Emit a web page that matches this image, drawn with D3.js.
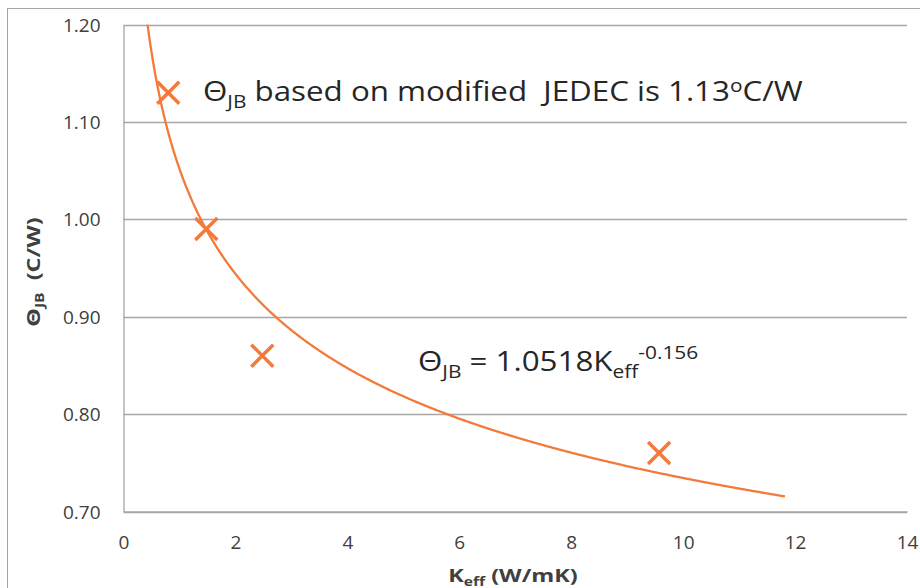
<!DOCTYPE html>
<html>
<head>
<meta charset="utf-8">
<script src="https://cdn.jsdelivr.net/npm/d3@7/dist/d3.min.js"></script>
<style>
  html, body { margin: 0; padding: 0; background: #fff; }
  svg { display: block; font-family: "Open Sans", "Liberation Sans", sans-serif; }
  text { white-space: pre; }
</style>
</head>
<body>
<svg id="chart" width="920" height="588"></svg>
<script>
// Measured points: effective conductivity (W/mK) vs theta-JB (C/W)
const keff = [0.8, 1.48, 2.48, 9.57];
const thetaJB = [1.13, 0.99, 0.86, 0.76];

// Power-law fit stated in the chart: theta = a * K^b
const fitCoef = [1.0518];
const fitExp = [-0.156];
const fitRange = [0.43, 11.82];

const xTicks = [0, 2, 4, 6, 8, 10, 12, 14];
const yTicks = [0.70, 0.80, 0.90, 1.00, 1.10, 1.20];

const orange = "#F47A3B";
const svg = d3.select("#chart");

const x = d3.scaleLinear().domain([0, 14]).range([123.5, 907]);
const y = d3.scaleLinear().domain([0.70, 1.20]).range([511.5, 24.5]);

// text block anchored at (tx, ty), widened horizontally by sx
function wideText(tx, ty, sx, rot) {
  return svg.append("g")
    .attr("transform", `translate(${tx},${ty})${rot ? ` rotate(${rot})` : ""} scale(${sx},1)`)
    .append("text");
}

// outer chart frame
svg.append("rect")
  .attr("x", 7.5).attr("y", 8.5)
  .attr("width", 930).attr("height", 600)
  .attr("fill", "none").attr("stroke", "#a6a6a6").attr("stroke-width", 1);

// horizontal gridlines
svg.append("g")
  .selectAll("line")
  .data(yTicks)
  .join("line")
  .attr("x1", x(0)).attr("x2", x(14))
  .attr("y1", d => Math.round(y(d)) + 0.5).attr("y2", d => Math.round(y(d)) + 0.5)
  .attr("stroke", "#a6a6a6").attr("stroke-width", 1.3);

// y axis
const yAxis = d3.axisLeft(y).tickValues(yTicks).tickFormat(d3.format(".2f")).tickSize(0).tickPadding(23);
const gy = svg.append("g").attr("transform", `translate(${x(0)},0)`).call(yAxis);
gy.select(".domain").attr("stroke", "#a6a6a6").attr("stroke-width", 1.3);
gy.selectAll("text").attr("font-size", 19).attr("font-family", "Open Sans").attr("fill", "#404040").attr("dy", "0.35em");

// x axis
const xAxis = d3.axisBottom(x).tickValues(xTicks).tickFormat(d3.format("d")).tickSize(0).tickPadding(24);
const gx = svg.append("g").attr("transform", `translate(0,${y(0.70)})`).call(xAxis);
gx.select(".domain").attr("stroke", "#a6a6a6").attr("stroke-width", 1.3);
gx.selectAll("text").attr("font-size", 19).attr("font-family", "Open Sans").attr("fill", "#404040");

// fitted trendline
const fitK = d3.range(fitRange[0], fitRange[1] + 1e-9, 0.02).concat([fitRange[1]]);
const fitPts = fitK.map(k => [k, fitCoef[0] * Math.pow(k, fitExp[0])]).filter(p => p[1] <= 1.2);
svg.append("path")
  .datum(fitPts)
  .attr("fill", "none").attr("stroke", orange).attr("stroke-width", 2.3)
  .attr("d", d3.line().x(d => x(d[0])).y(d => y(d[1])).curve(d3.curveMonotoneX));

// X markers for measured points
const r = 11;
const marks = svg.append("g").selectAll("g")
  .data(keff.map((k, i) => [k, thetaJB[i]]))
  .join("g")
  .attr("transform", d => `translate(${x(d[0])},${y(d[1])})`);
marks.append("path")
  .attr("d", `M${-r},${-r}L${r},${r}M${-r},${r}L${r},${-r}`)
  .attr("stroke", orange).attr("stroke-width", 3.5).attr("fill", "none");

// annotation: modified JEDEC value
const note = wideText(203, 101, 1.16)
  .attr("font-size", 27).attr("fill", "#262626");
note.append("tspan").text("Θ");
note.append("tspan").attr("font-size", 18).attr("dy", 7).text("JB");
note.append("tspan").attr("dy", -7).text(" based on modified  JEDEC is 1.13");
note.append("tspan").attr("font-size", 18).attr("dy", -9).text("o");
note.append("tspan").attr("dy", 9).text("C/W");

// annotation: fit equation
const eq = wideText(418, 371, 1.16)
  .attr("font-size", 27).attr("fill", "#262626");
eq.append("tspan").text("Θ");
eq.append("tspan").attr("font-size", 18).attr("dy", 7).text("JB");
eq.append("tspan").attr("dy", -7).text(" = 1.0518K");
eq.append("tspan").attr("font-size", 18).attr("dy", 7).text("eff");
eq.append("tspan").attr("font-size", 18).attr("dy", -19).text("-0.156");

// y axis title
const yt = wideText(40, 272, 1.3, -90)
  .attr("text-anchor", "middle")
  .attr("font-size", 18).attr("font-weight", "bold").attr("fill", "#404040");
yt.append("tspan").text("Θ");
yt.append("tspan").attr("font-size", 12).attr("dy", 4).text("JB");
yt.append("tspan").attr("dy", -4).text("  (C/W)");

// x axis title
const xt = wideText(513, 582, 1.3)
  .attr("text-anchor", "middle")
  .attr("font-size", 18).attr("font-weight", "bold").attr("fill", "#404040");
xt.append("tspan").text("K");
xt.append("tspan").attr("font-size", 12).attr("dy", 4).text("eff");
xt.append("tspan").attr("dy", -4).text(" (W/mK)");
</script>
</body>
</html>
